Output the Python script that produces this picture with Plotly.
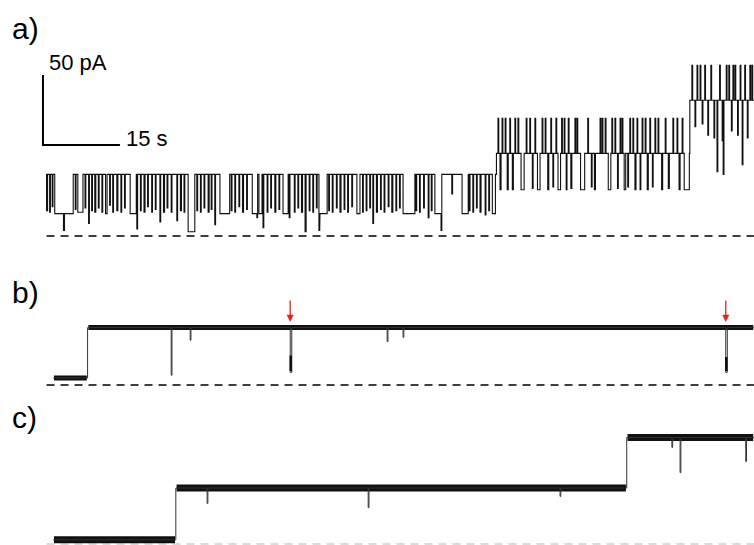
import plotly.graph_objects as go

# ---------------- data (time in s, current in pA) ----------------
# panel a: open-pore levels (1, 2, 3 pores)
a_seg_t0 = [0.2, 88.0, 125.7]
a_seg_t1 = [88.0, 125.7, 138.2]
a_seg_pA = [44, 59, 97]

# level-1 gating events
a1_t = [0.3, 0.9, 1.4, 1.9, 3.6, 3.8, 5.9, 6.4, 7.8, 8.5, 9.1, 9.7, 10.4, 11.1, 11.8, 12.6, 13.2,
        14.0, 14.8, 15.5, 16.6, 17.9, 18.6, 19.3, 20.0, 20.8, 21.5, 22.4, 23.1, 23.8, 24.6, 25.7,
        26.4, 27.1, 27.9, 29.6, 30.3, 31.0, 31.8, 32.4, 33.1, 34.1, 36.3, 37.0, 37.8, 38.5, 39.3,
        40.4, 41.3, 41.7, 42.5, 43.3, 44.0, 44.8, 45.6, 46.4, 47.6, 48.6, 49.3, 50.0, 50.7, 51.5,
        52.2, 52.9, 53.4, 53.6, 55.3, 56.0, 56.8, 57.5, 58.3, 59.0, 59.8, 60.8, 61.9, 62.6, 63.3,
        63.9, 64.6, 65.4, 66.1, 66.9, 67.6, 68.4, 69.1, 69.8, 72.3, 73.0, 73.8, 74.7, 75.3, 76.0,
        77.2, 79.3, 81.3, 82.7, 83.4, 84.1, 84.8, 85.8, 86.5, 87.2]
a1_pA = [18, 17, 21, 16, 4, 16, 19, 17, 20, 9, 18, 17, 20, 17, 16, 22, 17,
         18, 17, 20, 16, 5, 18, 17, 21, 17, 19, 10, 17, 20, 17, 11,
         18, 17, 3, 18, 17, 20, 17, 19, 8, 16, 18, 17, 21, 17, 19,
         16, 13, 16, 6, 17, 20, 17, 19, 16, 13, 17, 20, 17, 3, 18,
         17, 20, 4, 16, 18, 17, 20, 17, 19, 17, 21, 16, 17, 18, 20,
         9, 17, 19, 17, 21, 17, 18, 20, 16, 18, 17, 20, 13, 18, 16,
         4, 30, 16, 18, 17, 20, 17, 15, 18, 16]
a1_dur = [0.2, 0.15, 0.15, 1.7, 0.2, 1.7, 0.15, 1.0, 0.15, 0.15, 0.15, 0.2, 0.15, 0.15, 0.3, 0.15, 0.15,
          0.2, 0.15, 0.15, 1.2, 0.15, 0.15, 0.2, 0.15, 0.15, 0.15, 0.15, 0.2, 0.15, 0.15, 0.15,
          0.2, 0.15, 1.3, 0.15, 0.15, 0.15, 0.2, 0.15, 0.15, 1.9, 0.15, 0.15, 0.15, 0.2, 0.15,
          0.9, 0.15, 0.6, 0.15, 0.15, 0.15, 0.2, 0.15, 1.0, 0.15, 0.15, 0.15, 0.2, 0.2, 0.15,
          0.15, 0.15, 0.15, 1.4, 0.15, 0.15, 0.15, 0.2, 0.15, 0.15, 0.15, 0.6, 0.15, 0.15, 0.15,
          0.15, 0.2, 0.15, 0.15, 0.15, 0.2, 0.15, 0.15, 2.3, 0.15, 0.15, 0.15, 0.15, 0.15, 1.2,
          0.15, 0.15, 1.2, 0.15, 0.15, 0.15, 0.2, 0.15, 0.15, 0.6]

# level-2 gating events
a2_t = [88.3, 88.7, 89.1, 89.7, 90.1, 90.6, 91.1, 91.6, 92.2, 92.8, 93.8, 94.5, 95.0, 95.5, 96.0,
        96.9, 97.5, 98.0, 98.6, 99.0, 99.6, 100.0, 100.7, 101.2, 101.6, 102.0, 102.5, 103.3, 103.7,
        104.4, 105.8, 106.5, 107.1, 108.2, 108.6, 109.2, 109.8, 110.5, 111.1, 111.6, 112.1, 112.5,
        112.9, 113.6, 114.0, 114.6, 115.0, 115.4, 116.0, 116.4, 117.0, 117.4, 117.9, 118.4, 118.9,
        119.5, 120.2, 120.9, 121.5, 122.4, 123.2, 123.6, 124.2, 124.6]
a2_pA = [84, 33, 84, 84, 33, 84, 33, 84, 84, 33, 84, 84, 34, 84, 33,
         84, 84, 33, 84, 35, 84, 33, 84, 84, 33, 84, 34, 84, 84,
         33, 84, 35, 33, 84, 84, 84, 33, 84, 84, 34, 84, 84,
         33, 35, 84, 84, 33, 84, 33, 84, 84, 33, 84, 35, 84,
         84, 33, 84, 34, 84, 84, 33, 84, 33]
a2_dur = [0.15, 0.2, 0.15, 0.15, 0.2, 0.15, 0.2, 0.15, 0.15, 0.6, 0.15, 0.15, 0.15, 0.15, 0.5,
          0.15, 0.15, 0.2, 0.15, 0.15, 0.15, 0.5, 0.15, 0.15, 0.15, 0.15, 0.2, 0.15, 0.15,
          0.8, 0.15, 0.15, 0.2, 0.15, 0.15, 0.15, 0.5, 0.15, 0.15, 0.15, 0.15, 0.15,
          0.3, 0.15, 0.15, 0.15, 0.2, 0.15, 0.15, 0.15, 0.15, 0.2, 0.15, 0.15, 0.15,
          0.15, 0.2, 0.15, 0.2, 0.15, 0.15, 0.2, 0.15, 1.0]

# level-3 gating events
a3_t = [126.1, 126.7, 127.1, 127.7, 128.1, 128.6, 129.2, 129.8, 130.4, 131.0, 131.5, 132.0, 132.2,
        132.8, 133.3, 133.8, 134.1, 134.5, 135.0, 135.5, 135.9, 136.4, 136.9, 137.4, 137.8]
a3_pA = [122, 78, 122, 122, 80, 122, 72, 122, 70, 46, 122, 68, 44,
         122, 122, 75, 122, 122, 72, 122, 51, 122, 70, 122, 122]
a3_dur = [0.15, 0.15, 0.15, 0.15, 0.15, 0.15, 0.15, 0.15, 0.15, 0.15, 0.15, 0.1, 0.15,
          0.15, 0.15, 0.15, 0.15, 0.15, 0.15, 0.15, 0.15, 0.15, 0.15, 0.15, 0.15]

# panel b
b_seg_t0 = [1.6, 8.3]
b_seg_t1 = [8.3, 138.2]
b_seg_pA = [5, 41]
b_ev_t = [24.6, 28.3, 47.8, 66.7, 69.8, 132.7]
b_ev_pA = [7, 32, 9, 31, 34, 9]
b_ev_dur = [0.15, 0.15, 0.3, 0.15, 0.15, 0.3]
b_blk_t = [47.9, 132.8]
b_blk_lo = [10, 10]
b_blk_hi = [21, 20]
b_arrow_t = [47.8, 132.7]
b_arrow_pA = [45, 45]

# panel c
c_seg_t0 = [1.6, 25.5, 113.4]
c_seg_t1 = [25.5, 113.4, 138.2]
c_seg_pA = [3, 40, 76]
c_ev_t = [31.6, 63.0, 100.4, 122.2, 123.8, 136.6]
c_ev_pA = [29, 26, 34, 69, 51, 59]
c_ev_dur = [0.15, 0.15, 0.15, 0.15, 0.15, 0.15]

# scale bar
sb_t = 15
sb_pA = 50
sb_label_t = "15 s"
sb_label_pA = "50 pA"
panel_labels = ["a)", "b)", "c)"]

# ---------------- geometry ----------------
W, H = 754, 545
PX_PER_S = 5.13
PX_PER_PA = 1.4
X0_PX = 45                   # pixel of t = 0


def build(seg_t0, seg_t1, seg_pA, ev_t, ev_pA, ev_dur):
    events = sorted(zip(ev_t, ev_pA, ev_dur))
    xs, ys = [], []
    for t0, t1, base in zip(seg_t0, seg_t1, seg_pA):
        xs.append(t0); ys.append(base)
        evs = [e for e in events if t0 <= e[0] < t1]
        for i, (t, p, d) in enumerate(evs):
            prev_contig = i > 0 and abs(evs[i - 1][0] + evs[i - 1][2] - t) < 0.06
            next_contig = i + 1 < len(evs) and abs(t + d - evs[i + 1][0]) < 0.06
            if not prev_contig:
                xs.append(t); ys.append(base)
            xs.append(t); ys.append(p)
            xs.append(t + d); ys.append(p)
            if not next_contig:
                xs.append(t + d); ys.append(base)
        xs.append(t1); ys.append(base)
    return xs, ys


def band(seg_t0, seg_t1, seg_pA):
    xs, ys = [], []
    for t0, t1, p in zip(seg_t0, seg_t1, seg_pA):
        xs += [t0 + 0.15, t1 - 0.15, None]
        ys += [p, p, None]
    return xs, ys


def yaxis(px_top, px_bot, px_zero):
    return dict(domain=[max(0, 1 - px_bot / H), 1 - px_top / H],
                range=[(px_zero - px_bot) / PX_PER_PA, (px_zero - px_top) / PX_PER_PA],
                visible=False, fixedrange=True)


fig = go.Figure()
trace_col = "#111111"

# panel a
ax_, ay_ = build(a_seg_t0, a_seg_t1, a_seg_pA,
                 a1_t + a2_t + a3_t, a1_pA + a2_pA + a3_pA, a1_dur + a2_dur + a3_dur)
fig.add_trace(go.Scatter(x=ax_, y=ay_, mode="lines", line=dict(color=trace_col, width=1.1),
                         xaxis="x", yaxis="y", hoverinfo="skip"))
fig.add_trace(go.Scatter(x=[0.3, 138.2], y=[0, 0], mode="lines",
                         line=dict(color="black", width=1.6, dash="8px,6px"),
                         xaxis="x", yaxis="y", hoverinfo="skip"))
sb_x0, sb_y0 = -0.4, 65
fig.add_trace(go.Scatter(x=[sb_x0, sb_x0, sb_x0 + sb_t], y=[sb_y0 + sb_pA, sb_y0, sb_y0],
                         mode="lines", line=dict(color="black", width=2),
                         xaxis="x", yaxis="y", hoverinfo="skip"))

# panel b
bx, by = build(b_seg_t0, b_seg_t1, b_seg_pA, b_ev_t, b_ev_pA, b_ev_dur)
bbx, bby = band(b_seg_t0, b_seg_t1, b_seg_pA)
fig.add_trace(go.Scatter(x=bbx, y=bby, mode="lines", line=dict(color=trace_col, width=5),
                         xaxis="x", yaxis="y2", hoverinfo="skip", connectgaps=False))
fig.add_trace(go.Scatter(x=bx, y=by, mode="lines", line=dict(color="#333", width=1),
                         xaxis="x", yaxis="y2", hoverinfo="skip"))
blx, bly = [], []
for t, lo, hi in zip(b_blk_t, b_blk_lo, b_blk_hi):
    blx += [t, t, None]
    bly += [lo, hi, None]
fig.add_trace(go.Scatter(x=blx, y=bly, mode="lines", line=dict(color=trace_col, width=2.5),
                         xaxis="x", yaxis="y2", hoverinfo="skip"))
fig.add_trace(go.Scatter(x=[0.3, 138.2], y=[0, 0], mode="lines",
                         line=dict(color="black", width=1.6, dash="8px,6px"),
                         xaxis="x", yaxis="y2", hoverinfo="skip"))

# panel c
cx, cy = build(c_seg_t0, c_seg_t1, c_seg_pA, c_ev_t, c_ev_pA, c_ev_dur)
cbx, cby = band(c_seg_t0, c_seg_t1, c_seg_pA)
fig.add_trace(go.Scatter(x=[0.3, 138.2], y=[0, 0], mode="lines",
                         line=dict(color="#d0d0d0", width=1.4, dash="8px,6px"),
                         xaxis="x", yaxis="y3", hoverinfo="skip"))
fig.add_trace(go.Scatter(x=cbx, y=cby, mode="lines", line=dict(color=trace_col, width=7),
                         xaxis="x", yaxis="y3", hoverinfo="skip", connectgaps=False))
fig.add_trace(go.Scatter(x=cx, y=cy, mode="lines", line=dict(color="#333", width=1),
                         xaxis="x", yaxis="y3", hoverinfo="skip"))

annotations = []
font_txt = "Liberation Sans, Arial, sans-serif"
annotations.append(dict(x=0.4, y=123.6, xref="x", yref="y", text=sb_label_pA, showarrow=False,
                        xanchor="left", yanchor="middle", font=dict(size=22, color="black", family=font_txt)))
annotations.append(dict(x=15.4, y=70, xref="x", yref="y", text=sb_label_t, showarrow=False,
                        xanchor="left", yanchor="middle", font=dict(size=22, color="black", family=font_txt)))
for lab, ypx in zip(panel_labels, [29, 292, 417]):
    annotations.append(dict(x=10 / W, y=1 - ypx / H, xref="paper", yref="paper",
                            text=lab, showarrow=False, xanchor="left", yanchor="middle",
                            font=dict(size=30, color="black", family=font_txt)))
for t, p in zip(b_arrow_t, b_arrow_pA):
    annotations.append(dict(x=t, y=p, xref="x", yref="y2", text="", showarrow=True,
                            ax=0, ay=-23, arrowhead=2, arrowsize=1.1, arrowwidth=1.3,
                            arrowcolor="#e8231c", standoff=0))

fig.update_layout(
    width=W, height=H,
    margin=dict(l=0, r=0, t=0, b=0),
    paper_bgcolor="white", plot_bgcolor="white",
    showlegend=False,
    xaxis=dict(range=[-X0_PX / PX_PER_S, (W - X0_PX) / PX_PER_S], domain=[0, 1],
               visible=False, fixedrange=True),
    yaxis=yaxis(40, 250, 236),
    yaxis2=yaxis(285, 400, 385),
    yaxis3=yaxis(405, 545, 544),
    annotations=annotations,
)

fig.write_html("out.html",
               config={"displayModeBar": False},
               post_script="document.body.style.margin='0';document.body.style.overflow='hidden';")
